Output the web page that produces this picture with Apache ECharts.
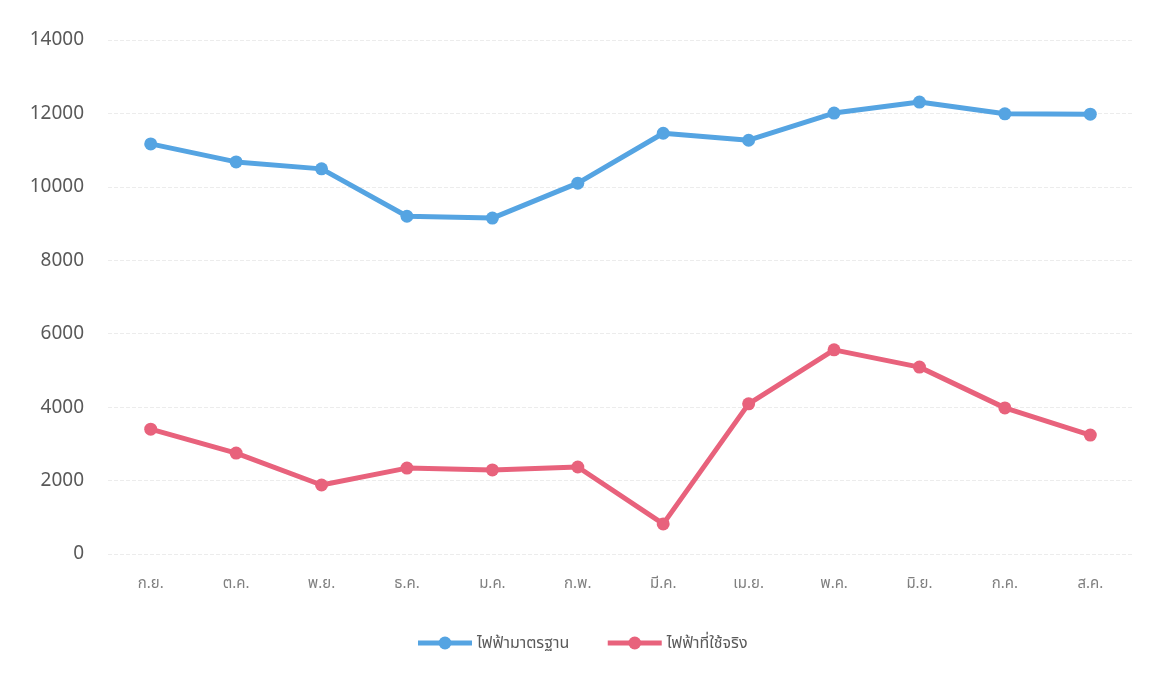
<!DOCTYPE html>
<html><head><meta charset="utf-8">
<script src="https://cdn.jsdelivr.net/npm/echarts@6/dist/echarts.min.js"></script>
<style>html,body{margin:0;padding:0;background:#fff}#c{width:1163px;height:674px}</style>
</head><body><div id="c"></div>
<script>
const categories = ['ก.ย.','ต.ค.','พ.ย.','ธ.ค.','ม.ค.','ก.พ.','มี.ค.','เม.ย.','พ.ค.','มิ.ย.','ก.ค.','ส.ค.'];
const standardName = 'ไฟฟ้ามาตรฐาน';
const actualName = 'ไฟฟ้าที่ใช้จริง';
const standardValues = [11170,10680,10490,9200,9150,10100,11460,11270,12010,12310,11990,11980];
const actualValues = [3400,2750,1880,2340,2290,2370,820,4090,5560,5090,3980,3240];
const yTicks = [0,2000,4000,6000,8000,10000,12000,14000];

const font = '"Noto Sans", "Noto Sans Thai", "Open Sans", sans-serif';
const chart = echarts.init(document.getElementById('c'), null, {renderer:'canvas'});
chart.setOption({
  backgroundColor:'#ffffff',
  textStyle:{fontFamily:font},
  grid:{left:108,right:30,top:40,bottom:120,containLabel:false},
  legend:{
    bottom:18,left:'center',itemWidth:54,itemHeight:16,itemGap:36,
    lineStyle:{width:5},
    textStyle:{fontSize:16,color:'#595959',fontFamily:font},
    data:[standardName,actualName]
  },
  xAxis:{
    type:'category',data:categories,boundaryGap:true,
    axisLine:{show:false},axisTick:{show:false},
    axisLabel:{fontSize:15,color:'#7f7f7f',margin:22,fontFamily:font}
  },
  yAxis:{
    type:'value',min:yTicks[0],max:yTicks[yTicks.length-1],interval:2000,
    axisLine:{show:false},axisTick:{show:false},
    splitLine:{lineStyle:{color:'#ececec',width:1,type:[4,2]}},
    axisLabel:{fontSize:19,color:'#595959',margin:24,fontFamily:font,formatter:v=>String(v)}
  },
  series:[
    {name:standardName,type:'line',data:standardValues,symbol:'circle',symbolSize:13,
     lineStyle:{width:5,color:'#55a4e2'},itemStyle:{color:'#55a4e2'},z:3},
    {name:actualName,type:'line',data:actualValues,symbol:'circle',symbolSize:13,
     lineStyle:{width:5,color:'#e8627c'},itemStyle:{color:'#e8627c'},z:3}
  ],
  animation:false
});
</script></body></html>
